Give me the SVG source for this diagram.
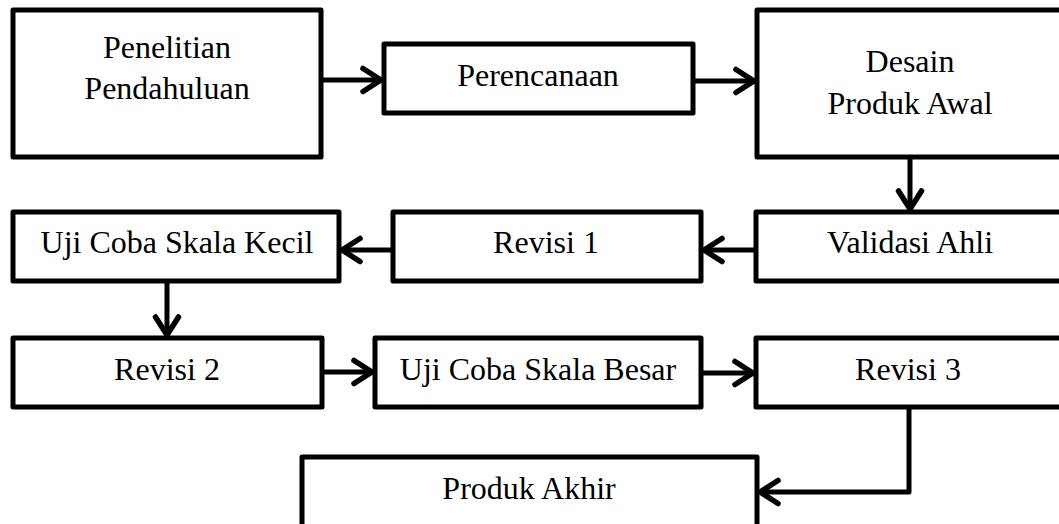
<svg xmlns="http://www.w3.org/2000/svg" width="1059" height="524" viewBox="0 0 1059 524">
<defs>
<style>
.box{fill:#fff;stroke:#000;stroke-width:5;stroke-linejoin:round}
.lbl{font-family:"Liberation Serif","Times New Roman",serif;font-size:32px;fill:#000;text-anchor:middle}
.con{fill:none;stroke:#000;stroke-width:5;stroke-linejoin:round}
</style>
<marker id="arr" markerUnits="userSpaceOnUse" markerWidth="30" markerHeight="30" viewBox="-24 -15 30 30" refX="0" refY="0" orient="auto">
<path d="M-18,-11.5 L0,0 L-18,11.5" fill="none" stroke="#000" stroke-width="5.5" stroke-linecap="round" stroke-linejoin="round"/>
</marker>
</defs>
<rect width="1059" height="524" fill="#fff"/>
<g id="n1"><rect class="box" x="13" y="10" width="308" height="147"/><text class="lbl" x="167" y="58">Penelitian</text><text class="lbl" x="167" y="99">Pendahuluan</text></g>
<g id="n2"><rect class="box" x="384" y="44" width="309" height="69"/><text class="lbl" x="538" y="86">Perencanaan</text></g>
<g id="n3"><rect class="box" x="757" y="10" width="307" height="147"/><text class="lbl" x="910" y="72">Desain</text><text class="lbl" x="910" y="114">Produk Awal</text></g>
<g id="n4"><rect class="box" x="756" y="212" width="308" height="69"/><text class="lbl" x="910" y="253">Validasi Ahli</text></g>
<g id="n5"><rect class="box" x="393" y="212" width="308" height="69"/><text class="lbl" x="546" y="253">Revisi 1</text></g>
<g id="n6"><rect class="box" x="13" y="212" width="326" height="69"/><text class="lbl" x="177" y="253">Uji Coba Skala Kecil</text></g>
<g id="n7"><rect class="box" x="13" y="338" width="309" height="69"/><text class="lbl" x="167" y="380">Revisi 2</text></g>
<g id="n8"><rect class="box" x="375" y="338" width="326" height="69"/><text class="lbl" x="538" y="380">Uji Coba Skala Besar</text></g>
<g id="n9"><rect class="box" x="756" y="338" width="308" height="69"/><text class="lbl" x="908" y="380">Revisi 3</text></g>
<g id="n10"><rect class="box" x="302" y="457" width="455" height="90"/><text class="lbl" x="529" y="499">Produk Akhir</text></g>
<g id="connectors">
<path class="con" d="M321,80 H381" marker-end="url(#arr)"/>
<path class="con" d="M693,81 H754" marker-end="url(#arr)"/>
<path class="con" d="M910,157 V209" marker-end="url(#arr)"/>
<path class="con" d="M756,250 H704" marker-end="url(#arr)"/>
<path class="con" d="M393,250 H342" marker-end="url(#arr)"/>
<path class="con" d="M167,281 V335" marker-end="url(#arr)"/>
<path class="con" d="M322,372 H372" marker-end="url(#arr)"/>
<path class="con" d="M701,373 H753" marker-end="url(#arr)"/>
<path class="con" d="M909,407 V492 H760" marker-end="url(#arr)"/>
</g>
</svg>
